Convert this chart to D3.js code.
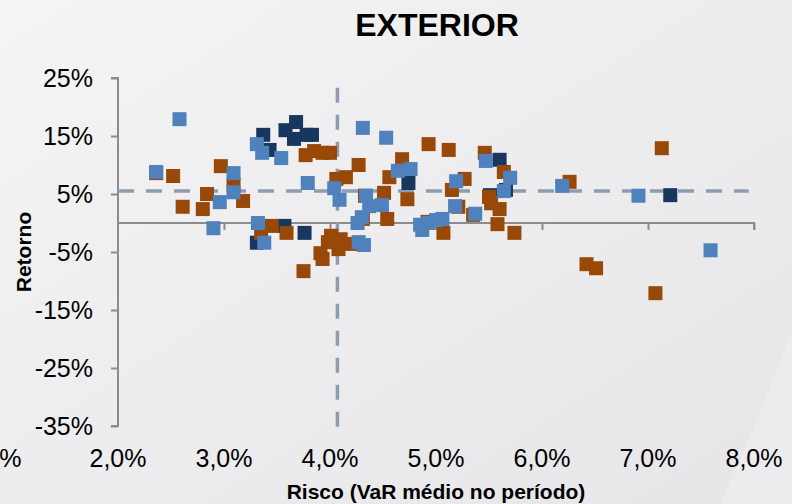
<!DOCTYPE html>
<html>
<head>
<meta charset="utf-8">
<script src="https://cdn.jsdelivr.net/npm/d3@7"></script>
<style>
  html, body { margin: 0; padding: 0; }
  body { width: 792px; height: 504px; overflow: hidden; }
  svg { display: block; font-family: "Liberation Sans", Arial, sans-serif; }
</style>
</head>
<body>
<div class="chart"></div>
<script>
// Exterior funds: risk (avg VaR) x return, three groups of points

const xTicks = [1, 2, 3, 4, 5, 6, 7, 8];
const yTicks = [25, 15, 5, -5, -15, -25, -35];

// averages (dashed reference lines)
const avgRisk = 4.07;
const avgReturn = 5.5;

// [risco %, retorno %]
const darkPoints = [
  [3.37, 15.2], [3.68, 17.4], [3.58, 16.0], [3.66, 14.5], [3.78, 15.2],
  [3.83, 15.2], [3.43, 12.6], [3.57, -0.5], [3.76, -1.7], [3.31, -3.4],
  [4.74, 6.9], [5.60, 10.9], [5.66, 5.7], [5.51, 4.8], [7.21, 4.8]
];

const brownPoints = [
  [2.36, 8.6], [2.52, 8.1], [2.97, 9.8], [3.09, 6.6], [3.18, 3.8],
  [2.84, 5.0], [2.61, 2.8], [2.80, 2.4], [3.35, -1.7], [3.45, -0.5],
  [3.59, -1.7], [3.77, 11.7], [3.85, 12.4], [3.93, 12.1], [4.00, 12.1],
  [4.27, 10.0], [4.06, 7.6], [4.15, 7.9], [4.01, -2.2], [3.98, -3.3],
  [4.08, -4.5], [4.10, -2.8], [4.19, -3.6], [3.91, -5.2], [3.93, -6.2],
  [3.75, -8.3], [4.93, 13.6], [5.12, 12.6], [5.46, 12.1], [4.68, 11.0],
  [4.56, 7.9], [5.27, 7.6], [5.15, 5.7], [4.51, 5.2], [4.73, 4.1],
  [4.33, 4.7], [4.31, 0.7], [4.54, 0.7], [4.92, 0.2], [5.21, 2.8],
  [5.35, 1.4], [5.07, -1.7], [5.64, 8.8], [5.50, 4.5], [5.52, 3.4],
  [5.60, 2.4], [5.58, -0.2], [5.74, -1.7], [6.26, 7.1], [7.13, 12.9],
  [6.42, -7.1], [6.51, -7.8], [7.07, -12.1]
];

const bluePoints = [
  [2.58, 17.9], [2.36, 8.8], [3.31, 13.6], [3.36, 12.1], [3.09, 8.6],
  [3.09, 5.3], [2.96, 3.6], [2.90, -0.9], [3.32, 0.0], [3.38, -3.4],
  [3.54, 11.2], [4.31, 16.4], [4.53, 14.7], [3.79, 6.9], [4.04, 6.0],
  [4.09, 4.0], [4.26, 0.0], [4.30, 1.0], [4.27, -3.3], [4.32, -3.8],
  [4.34, 4.7], [4.37, 2.9], [4.49, 3.1], [4.64, 9.0], [4.76, 9.3],
  [5.19, 7.2], [5.18, 2.9], [5.37, 1.6], [4.85, -0.3], [4.87, -1.2],
  [4.93, 0.0], [5.00, 0.5], [5.06, 0.7], [5.47, 10.7], [5.70, 7.8],
  [5.64, 5.5], [6.19, 6.4], [6.91, 4.7], [7.59, -4.7]
];

const width = 792;
const height = 504;

const svg = d3.select(".chart")
  .append("svg")
  .attr("width", width)
  .attr("height", height);

// background, light grey gradient like the slide
const defs = svg.append("defs");
const grad = defs.append("linearGradient")
  .attr("id", "bg")
  .attr("x1", "0").attr("y1", "0")
  .attr("x2", "1").attr("y2", "1");
grad.append("stop").attr("offset", "0%").attr("stop-color", "#f4f4f5");
grad.append("stop").attr("offset", "100%").attr("stop-color", "#e6e6e8");

svg.append("rect")
  .attr("width", width)
  .attr("height", height)
  .attr("fill", "url(#bg)");

// lighter swoosh bottom right
svg.append("path")
  .attr("d", "M792,330 C770,390 745,450 720,504 L792,504 Z")
  .attr("fill", "#ececee");

// scales: 2% sits on the y axis, 1% falls off to the left
const x = d3.scaleLinear().domain([2, 8]).range([118, 754]);
const y = d3.scaleLinear().domain([-35, 25]).range([426, 78]);

const axisColor = "#8c8c8c";
const fmtX = d => d3.format(".1f")(d).replace(".", ",") + "%";

// y axis
const yAxis = svg.append("g")
  .attr("transform", `translate(${x(2)},0)`)
  .call(d3.axisLeft(y).tickValues(yTicks).tickSize(7).tickFormat(d => d + "%"));
yAxis.select(".domain").attr("d", `M-7,${y(25)}H0V${y(-35)}H-7`);

// x axis on the zero line, labels sit down below the plot
const xAxis = svg.append("g")
  .attr("transform", `translate(0,${y(0)})`)
  .call(d3.axisBottom(x).tickValues(xTicks.filter(d => d > 2)).tickSize(7).tickFormat(""));
xAxis.select(".domain").attr("d", `M${x(2)},0H${x(8)}V7`);

[yAxis, xAxis].forEach(g => {
  g.select(".domain").attr("stroke", axisColor).attr("stroke-width", 2).attr("fill", "none");
  g.selectAll(".tick line").attr("stroke", axisColor).attr("stroke-width", 2);
});
yAxis.selectAll(".tick text")
  .attr("x", -25)
  .attr("dy", "0.35em")
  .attr("fill", "#000")
  .style("font-size", "25px")
  .style("font-family", "Liberation Sans, Arial, sans-serif");

// excel pushes the 1,0% label past the left edge, only "%" shows
const xLabelPos = d => d === 1 ? -7 : x(d);
svg.append("g")
  .selectAll("text")
  .data(xTicks)
  .enter()
  .append("text")
  .attr("x", xLabelPos)
  .attr("y", 467)
  .attr("text-anchor", "middle")
  .style("font-size", "25px")
  .attr("fill", "#000")
  .text(fmtX);

// dashed average lines
const dashColor = "#8e9cb0";
svg.append("line")
  .attr("x1", x(avgRisk)).attr("x2", x(avgRisk))
  .attr("y1", y(23.3)).attr("y2", y(-35.3))
  .attr("stroke", dashColor)
  .attr("stroke-width", 3.5)
  .attr("stroke-dasharray", "15,12");
svg.append("line")
  .attr("x1", x(2)).attr("x2", x(7.95))
  .attr("y1", y(avgReturn)).attr("y2", y(avgReturn))
  .attr("stroke", dashColor)
  .attr("stroke-width", 3.5)
  .attr("stroke-dasharray", "16,12");

// points: dark first, then brown, blue on top
const size = 14;
function drawSeries(data, color) {
  svg.append("g")
    .selectAll("rect")
    .data(data)
    .enter()
    .append("rect")
    .attr("x", d => x(d[0]) - size / 2)
    .attr("y", d => y(d[1]) - size / 2)
    .attr("width", size)
    .attr("height", size)
    .attr("fill", color);
}
drawSeries(darkPoints, "#17375e");
drawSeries(brownPoints, "#984807");
drawSeries(bluePoints, "#4f81bd");

// titles
svg.append("text")
  .attr("x", 437)
  .attr("y", 36)
  .attr("text-anchor", "middle")
  .style("font-size", "32px")
  .style("font-weight", "bold")
  .text("EXTERIOR");

svg.append("text")
  .attr("x", 436)
  .attr("y", 499)
  .attr("text-anchor", "middle")
  .style("font-size", "21px")
  .style("font-weight", "bold")
  .text("Risco (VaR médio no período)");

svg.append("text")
  .attr("transform", "translate(31,252) rotate(-90)")
  .attr("text-anchor", "middle")
  .style("font-size", "21px")
  .style("font-weight", "bold")
  .text("Retorno");
</script>
</body>
</html>
